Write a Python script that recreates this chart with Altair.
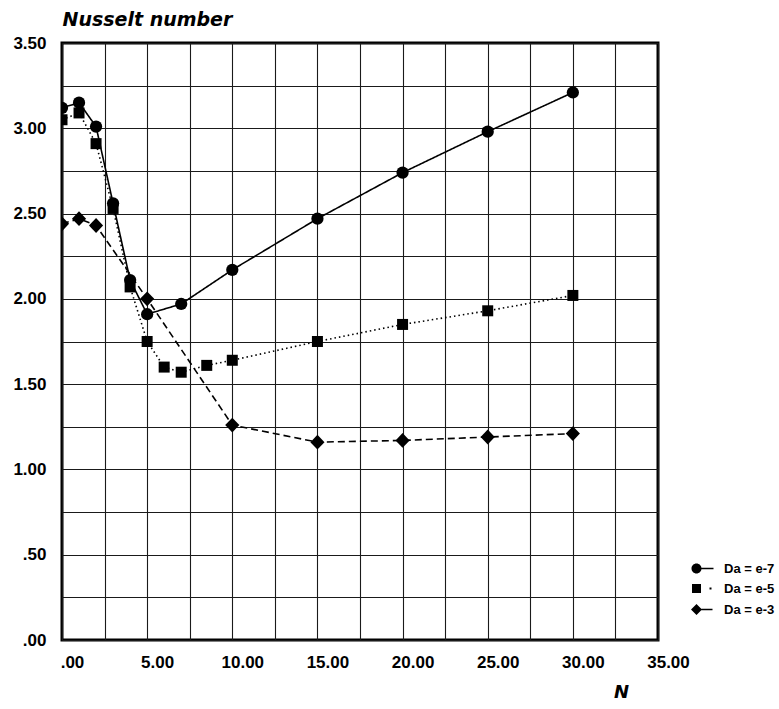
import altair as alt
import pandas as pd

series_names = ["Da = e-7", "Da = e-5", "Da = e-3"]

n_e7 = [0, 1, 2, 3, 4, 5, 7, 10, 15, 20, 25, 30]
nu_e7 = [3.12, 3.15, 3.01, 2.56, 2.11, 1.91, 1.97, 2.17, 2.47, 2.74, 2.98, 3.21]

n_e5 = [0, 1, 2, 3, 4, 5, 6, 7, 8.5, 10, 15, 20, 25, 30]
nu_e5 = [3.05, 3.09, 2.91, 2.53, 2.07, 1.75, 1.60, 1.57, 1.61, 1.64, 1.75, 1.85, 1.93, 2.02]

n_e3 = [0, 1, 2, 5, 10, 15, 20, 25, 30]
nu_e3 = [2.44, 2.47, 2.43, 2.00, 1.26, 1.16, 1.17, 1.19, 1.21]

x_ticks = [0, 2.5, 5, 7.5, 10, 12.5, 15, 17.5, 20, 22.5, 25, 27.5, 30, 32.5, 35]
y_ticks = [0, 0.25, 0.5, 0.75, 1, 1.25, 1.5, 1.75, 2, 2.25, 2.5, 2.75, 3, 3.25, 3.5]

rows = []
for name, ns, vs in zip(series_names, [n_e7, n_e5, n_e3], [nu_e7, nu_e5, nu_e3]):
    for n, v in zip(ns, vs):
        rows.append({"series": name, "N": n, "Nu": v})
df = pd.DataFrame(rows)

LBL_FONT = "Liberation Sans"
TTL_FONT = "DejaVu Sans"

x_enc = alt.X(
    "N:Q",
    scale=alt.Scale(domain=[0, 35], nice=False, zero=False),
    axis=alt.Axis(
        values=x_ticks,
        labelExpr="datum.value % 5 == 0 ? (datum.value == 0 ? '.00' : format(datum.value, '.2f')) : ''",
        grid=True, gridColor="#1a1a1a", gridWidth=1.1, gridOpacity=1,
        ticks=False, domain=False,
        labelFont=LBL_FONT, labelFontSize=17, labelFontWeight="bold", labelColor="black",
        labelPadding=14, labelOffset=10, labelFlush=False, labelOverlap=False,
        title="N", titleFont=TTL_FONT, titleFontSize=18, titleFontWeight="bold",
        titleFontStyle="italic", titleColor="black",
        titleX=559, titleY=57, titleAlign="center", titleBaseline="alphabetic",
    ),
)

y_enc = alt.Y(
    "Nu:Q",
    scale=alt.Scale(domain=[0, 3.5], nice=False, zero=False),
    axis=alt.Axis(
        values=y_ticks,
        labelExpr="datum.value % 0.5 == 0 ? (datum.value == 0 ? '.00' : (datum.value < 1 ? '.50' : format(datum.value, '.2f'))) : ''",
        grid=True, gridColor="#1a1a1a", gridWidth=1.1, gridOpacity=1,
        ticks=False, domain=False,
        labelFont=LBL_FONT, labelFontSize=17, labelFontWeight="bold", labelColor="black",
        labelPadding=16, labelOverlap=False, labelFlush=False,
        title="Nusselt number", titleFont=TTL_FONT, titleFontSize=19, titleFontWeight="bold",
        titleFontStyle="italic", titleColor="black", titleAngle=0,
        titleX=0, titleY=-18, titleAlign="left", titleBaseline="alphabetic",
    ),
)

lines = alt.Chart(df).mark_line(color="black", strokeWidth=1.6, clip=True).encode(
    x=x_enc,
    y=y_enc,
    strokeDash=alt.StrokeDash(
        "series:N",
        scale=alt.Scale(domain=series_names, range=[[1, 0], [1.5, 3], [7, 4]]),
        legend=None,
    ),
)

marker_shapes = ["circle", "square", "M-1,0L0,-1.05L1,0L0,1.05Z"]
marker_sizes = [150, 121, 200]

point_layers = []
for name, shp, sz in zip(series_names, marker_shapes, marker_sizes):
    point_layers.append(
        alt.Chart(df)
        .transform_filter(alt.datum.series == name)
        .mark_point(filled=True, color="black", opacity=1, shape=shp, size=sz, clip=True)
        .encode(x=x_enc, y=y_enc)
    )

legend_paths = [
    "M-1,0A1,1,0,1,1,1,0A1,1,0,1,1,-1,0Z M0.9,-0.15L3.4,-0.15L3.4,0.15L0.9,0.15Z",
    "M-0.9,-0.9L0.9,-0.9L0.9,0.9L-0.9,0.9Z M2.6,-0.2L3.0,-0.2L3.0,0.2L2.6,0.2Z",
    "M-1.1,0L0,-1.1L1.1,0L0,1.1Z M1.0,-0.15L3.2,-0.15L3.2,0.15L1.0,0.15Z",
]

legend_layer = alt.Chart(df).mark_point(filled=True, color="black", size=0).encode(
    x=x_enc,
    y=y_enc,
    shape=alt.Shape(
        "series:N",
        scale=alt.Scale(domain=series_names, range=legend_paths),
        legend=alt.Legend(
            title=None, orient="none", legendX=628, legendY=519,
            symbolSize=100, symbolFillColor="black", symbolStrokeColor="black",
            symbolStrokeWidth=1, symbolOpacity=1,
            labelFont=LBL_FONT, labelFontSize=13, labelFontWeight="bold", labelColor="black",
            labelOffset=21, rowPadding=6,
        ),
    ),
)

chart = (
    alt.layer(lines, *point_layers, legend_layer)
    .resolve_scale(shape="independent")
    .properties(
        width=596,
        height=597,
        autosize=alt.AutoSizeParams(type="none"),
        padding={"left": 62, "top": 43, "right": 121, "bottom": 69},
        background="white",
    )
    .configure_view(stroke="black", strokeWidth=3)
)

chart.save("out.html", embed_options={"renderer": "svg", "actions": False})
